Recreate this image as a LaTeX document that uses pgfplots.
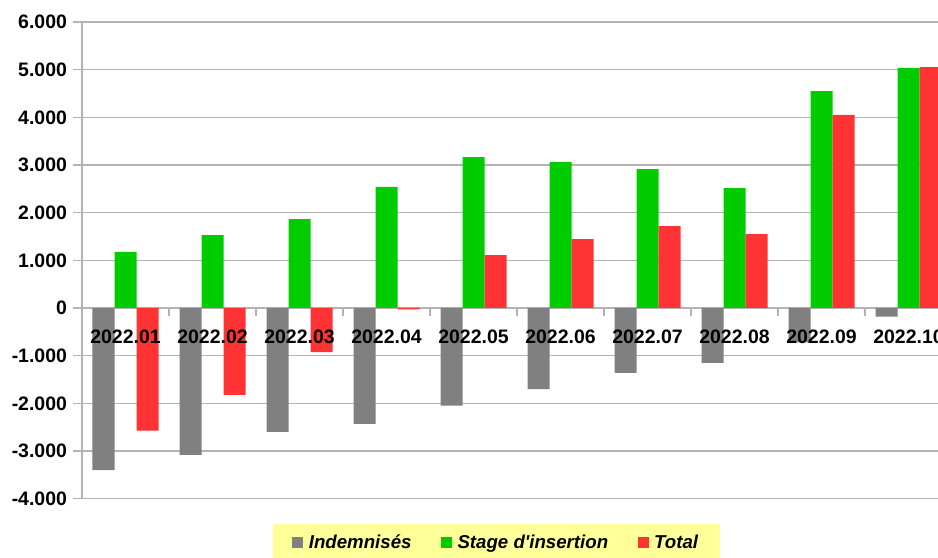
\documentclass[border=0pt]{standalone}
\usepackage{pgfplots}
\pgfplotsset{compat=1.18}
\usepackage{fontspec}
\setmainfont{Liberation Sans}
\definecolor{cgray}{HTML}{808080}
\definecolor{cgreen}{HTML}{00CC00}
\definecolor{cred}{HTML}{FF3333}
\definecolor{cgrid}{HTML}{B3B3B3}
\definecolor{clegend}{HTML}{FFFF99}
\pgfplotsset{
  common/.style={
    scale only axis,
    width=652.5pt, height=357.5pt,
    xmin=-0.5, xmax=9.5,
    ymin=-4000, ymax=6000,
    clip=false,
  },
}
\begin{document}
\begin{tikzpicture}
\begin{axis}[
  common,
  ytick={-4000,-3000,...,6000},
  xtick={0,...,9},
  xticklabels={},
  minor xtick={0.5,1.5,...,9.5},
  major x tick style={draw=none},
  minor tick length=6pt,
  major tick length=6.75pt,
  tick align=outside,
  axis x line*=middle,
  axis y line*=left,
  axis line style={cgrid, line width=1pt},
  every tick/.style={cgrid, line width=1pt},
  ymajorgrids,
  major grid style={cgrid, line width=1pt},
  ytick pos=left,
  ybar,
  bar width=16.5pt,
  /pgf/number format/.cd, 1000 sep={.}, assume math mode=true,
  /pgfplots/.cd,
  tick label style={font=\fontsize{14.6}{17}\selectfont\bfseries, text=black},
  yticklabel style={xshift=-1pt},
  legend columns=3,
  legend style={at={(0.4764,-0.0929)}, anchor=center, fill=clegend, draw=none,
    font=\fontsize{14}{16}\selectfont\bfseries\itshape,
    inner xsep=14.25pt, inner ysep=6pt,
    /tikz/every even column/.append style={column sep=20pt}},
  legend image code/.code={\fill[#1] (0pt,-4.1pt) rectangle (8.25pt,4.1pt); \path (8.25pt,0pt) -- (10.5pt,0pt);},
]
\addplot[fill=cgray, draw=none, bar shift=-16.5pt] coordinates {
  (0,-3400) (1,-3080) (2,-2600) (3,-2430) (4,-2050) (5,-1700) (6,-1360) (7,-1150) (8,-720) (9,-180)};
\addplot[fill=cgreen, draw=none, bar shift=0pt] coordinates {
  (0,1175) (1,1530) (2,1865) (3,2540) (4,3165) (5,3065) (6,2915) (7,2515) (8,4550) (9,5035)};
\addplot[fill=cred, draw=none, bar shift=16.5pt] coordinates {
  (0,-2575) (1,-1820) (2,-925) (3,-30) (4,1110) (5,1445) (6,1720) (7,1550) (8,4050) (9,5055)};
\legend{Indemnisés, Stage d\textquotesingle insertion, Total}
\coordinate (tl) at (rel axis cs:0,1);
\end{axis}
\begin{axis}[
  common,
  axis x line*=middle,
  hide y axis,
  x axis line style={draw=none},
  xtick={0,...,9},
  xticklabels={2022.01,2022.02,2022.03,2022.04,2022.05,2022.06,2022.07,2022.08,2022.09,2022.10},
  major tick length=0pt,
  xtick style={draw=none},
  xticklabel style={font=\fontsize{14.6}{17}\selectfont\bfseries, text=black, yshift=-13.25pt},
]
\end{axis}
\pgfresetboundingbox
\path[use as bounding box] (tl) ++(-61.5pt,16.5pt) rectangle ++(703.5pt,-417.75pt);
\end{tikzpicture}
\end{document}
